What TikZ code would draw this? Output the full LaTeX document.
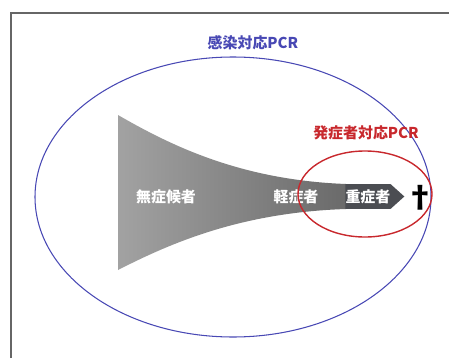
\documentclass[tikz,border=0pt]{standalone}
\usepackage{fontspec}
\newfontfamily\jp{Noto Sans CJK JP}
\usetikzlibrary{shapes.symbols}
\definecolor{pcrblue}{HTML}{4848B4}
\definecolor{pcrred}{HTML}{C8282D}
\definecolor{funl}{HTML}{A2A2A2}
\definecolor{funr}{HTML}{6A6A6A}
\definecolor{darkbox}{HTML}{4B4D52}
\begin{document}
\begin{tikzpicture}[x=0.02cm,y=-0.02cm,font=\jp\bfseries\fontsize{8.5}{10}\selectfont]
 \useasboundingbox (0,0) rectangle (449,358);
 \draw[line width=1.2pt,gray!80!black] (11,358)--(11,13)--(449,13);
 % funnel
 \shade[left color=funl,right color=funr] (118,115) .. controls (170,145) and (240,180) .. (346,184)
   -- (346,209) .. controls (240,212.5) and (170,243.5) .. (118,270) -- cycle;
 \node[signal,signal to=east,signal pointer angle=84,fill=darkbox,text=white,inner sep=0,
   minimum width=1.18cm,minimum height=0.5cm,anchor=west] (severe) at (345,196.5) {重症者};
 \node[text=white] (asym) at (166,197) {無症候者};
 \node[text=white] (mild) at (296,197) {軽症者};
 \node[font=\jp\bfseries\fontsize{17}{17}\selectfont] (dead) at (420,198) {†};
 % PCR
 \draw[pcrblue,line width=0.6pt] (233,197) ellipse [x radius=198,y radius=140];
 \draw[pcrred,line width=0.8pt] (365,194) ellipse [x radius=67,y radius=43];
 \node[text=pcrblue] (infect) at (253,43) {感染対応PCR};
 \node[text=pcrred] (onset) at (366,133) {発症者対応PCR};
\end{tikzpicture}
\end{document}
